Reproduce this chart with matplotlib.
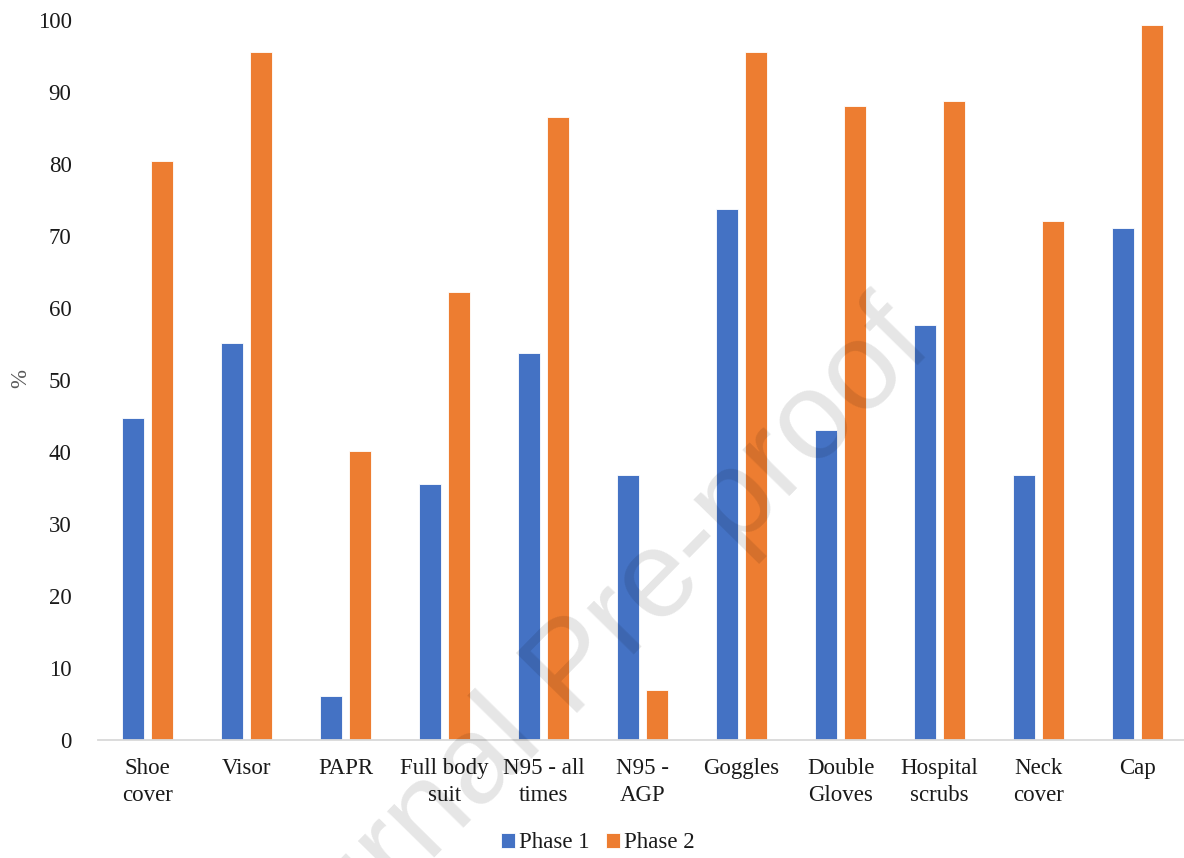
import matplotlib
matplotlib.use("Agg")
import matplotlib.pyplot as plt
import numpy as np

categories = ["Shoe\ncover", "Visor", "PAPR", "Full body\nsuit", "N95 - all\ntimes",
              "N95 -\nAGP", "Goggles", "Double\nGloves", "Hospital\nscrubs", "Neck\ncover", "Cap"]
phase1 = [44.7, 55.1, 6.1, 35.6, 53.8, 36.8, 73.7, 43.0, 57.7, 36.8, 71.1]
phase2 = [80.4, 95.5, 40.2, 62.2, 86.5, 6.9, 95.5, 88.0, 88.8, 72.1, 99.3]
series_names = ["Phase 1", "Phase 2"]
yticks = list(range(0, 101, 10))

BLUE = "#4472C4"
ORANGE = "#ED7D31"
SERIF = ["Liberation Serif", "DejaVu Serif"]
FS = 16.5

W, H = 1184, 858
fig = plt.figure(figsize=(W / 100, H / 100), dpi=100)
ax = fig.add_axes([98 / W, 118 / H, 1089 / W, 720 / H])

x = np.arange(len(categories))
bw = 0.222
off = 0.143
ax.bar(x - off, phase1, width=bw, color=BLUE, edgecolor="white", linewidth=0.6, label=series_names[0], zorder=2)
ax.bar(x + off, phase2, width=bw, color=ORANGE, edgecolor="white", linewidth=0.6, label=series_names[1], zorder=2)

ax.set_xlim(-0.5, len(categories) - 0.5)
ax.set_ylim(0, 100)
ax.set_yticks(yticks)
ax.set_yticklabels([str(v) for v in yticks], fontfamily=SERIF, fontsize=FS, color="#1a1a1a")
ax.set_xticks(x)
ax.set_xticklabels(categories, fontfamily=SERIF, fontsize=FS, color="#1a1a1a", linespacing=1.38)
ax.tick_params(axis="both", length=0)
ax.tick_params(axis="y", pad=19)
ax.tick_params(axis="x", pad=13)

for side in ("top", "right", "left"):
    ax.spines[side].set_visible(False)
ax.spines["bottom"].set_color("#D9D9D9")
ax.spines["bottom"].set_linewidth(1.3)
ax.spines["bottom"].set_zorder(3)

fig.text(21 / W, 1 - 378 / H, "%", rotation=90, ha="center", va="center",
         fontfamily=SERIF, fontsize=FS, color="#595959")

leg = fig.legend(loc="center", bbox_to_anchor=(598 / W, 1 - 843 / H), ncol=2, frameon=False,
                 prop={"family": SERIF, "size": FS}, handlelength=0.6, handleheight=0.6,
                 handletextpad=0.2, columnspacing=0.7, borderpad=0)
for t in leg.get_texts():
    t.set_color("#1a1a1a")

# diagonal "Journal Pre-proof" stamp across the page
fig.text(597 / W, 1 - 692 / H, "Journal Pre-proof", rotation=45.5, rotation_mode="anchor",
         ha="center", va="baseline", fontfamily=["Liberation Sans", "DejaVu Sans"],
         fontsize=90, color="black", alpha=0.1, zorder=10)

fig.savefig("out.png", dpi=100)
